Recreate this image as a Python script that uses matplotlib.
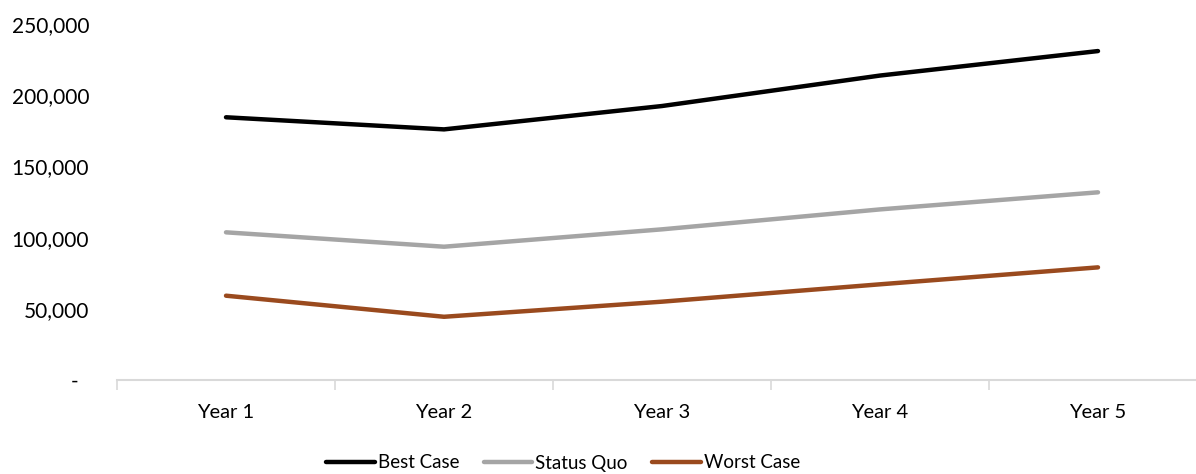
import matplotlib
matplotlib.use("Agg")
import matplotlib.pyplot as plt
from matplotlib.ticker import FuncFormatter, FixedLocator

plt.rcParams['font.family'] = ['Lato', 'DejaVu Sans']

years = ["Year 1", "Year 2", "Year 3", "Year 4", "Year 5"]
best_case = [184500, 176000, 192400, 213800, 231000]
status_quo = [103700, 93600, 105800, 119800, 131800]
worst_case = [59200, 44400, 55000, 67200, 79100]

series = [
    ("Best Case", best_case, "#000000"),
    ("Status Quo", status_quo, "#A5A5A5"),
    ("Worst Case", worst_case, "#9A4A1E"),
]

fig = plt.figure(figsize=(11.96, 4.74), dpi=100)
ax = fig.add_axes([117 / 1196, 94 / 474, 1090 / 1196, 356 / 474])

x = range(len(years))
for name, vals, col in series:
    ax.plot(x, vals, color=col, lw=3.2, solid_capstyle="round",
            solid_joinstyle="round", label=name)

ax.set_xlim(-0.5, len(years) - 0.5)
ax.set_ylim(0, 250000)
ax.set_yticks(range(0, 250001, 50000))


def fmt(v, pos):
    if v == 0:
        return "-  "
    return f"{int(v):,}"


ax.yaxis.set_major_formatter(FuncFormatter(fmt))
ax.tick_params(axis="y", length=0, pad=20, labelsize=15, labelcolor="#000000")

# category labels in the middle, tick marks on the boundaries
ax.set_xticks(list(x))
ax.set_xticklabels(years)
ax.tick_params(axis="x", which="major", length=0, pad=17, labelsize=14.5)
ax.xaxis.set_minor_locator(FixedLocator([i - 0.5 for i in range(len(years) + 1)]))
ax.tick_params(axis="x", which="minor", length=7, width=1.2, color="#D9D9D9")

for s in ["top", "right", "left"]:
    ax.spines[s].set_visible(False)
ax.spines["bottom"].set_color("#D9D9D9")
ax.spines["bottom"].set_linewidth(1.5)

fig.legend(loc="center", bbox_to_anchor=(563 / 1196, 11 / 474), ncol=3,
           frameon=False, fontsize=13.5, handlelength=2.6, handletextpad=0.15,
           columnspacing=1.3, borderpad=0, borderaxespad=0)

fig.savefig("out.png", dpi=100)
